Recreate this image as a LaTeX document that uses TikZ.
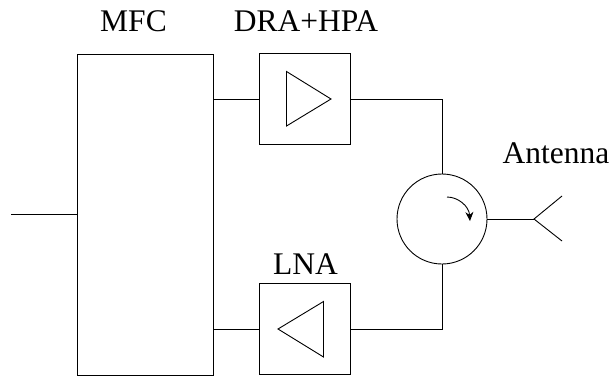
\documentclass[tikz,border=0pt]{standalone}
\usepackage{fontspec}
\setmainfont{Liberation Serif}
\usetikzlibrary{arrows.meta}
\tikzset{
	block/.style={draw, minimum width=91pt, minimum height=91pt, inner sep=0pt},
	caption/.style={font=\fontsize{31.5}{36}\selectfont, inner sep=0pt, anchor=base},
}
\begin{document}
\begin{tikzpicture}[
		x=1pt, y=-1pt, line width=0.9pt
	]
	\useasboundingbox (0,0) rectangle (610,376);
	\node[draw, minimum width=136pt, minimum height=321pt, inner sep=0pt, anchor=north west] (mfc)
		at (77,54) {};
	\node[block] (dra)
		at (305,99) {};
	\node[block] (lna)
		at (305,329) {};
	\node[draw, circle, minimum size=90pt, inner sep=0pt] (circ)
		at (442,219) {};
	\coordinate (in) at (11,214);
	\coordinate (feed) at (534,219);
	\coordinate (upper) at (562,196);
	\coordinate (lower) at (562,241);

	\draw (in) -- (in -| mfc.west);
	\draw (mfc.east |- dra.west) -- (dra.west);
	\draw (mfc.east |- lna.west) -- (lna.west);
	\draw (dra.east) -| (circ.north);
	\draw (lna.east) -| (circ.south);
	\draw (circ.east) -- (feed);
	\draw (upper) -- (feed) -- (lower);

	% amplifiers
	\draw (286.5,71.5) -- (286.5,126) -- (331,99) -- cycle;
	\draw (323.5,301.5) -- (323.5,357) -- (278,329) -- cycle;
	% rotation sense
	\draw[-{Stealth[length=9pt,width=8pt]}] (447,197) .. controls (458,197) and (469,206) .. (470,221);

	\node[caption] (mfclabel) at (133.5,31) {MFC};
	\node[caption] (dralabel) at (306,31) {DRA+HPA};
	\node[caption] (lnalabel) at (305.5,274) {LNA};
	\node[caption] (antlabel) at (556,163) {Antenna};
\end{tikzpicture}
\end{document}
